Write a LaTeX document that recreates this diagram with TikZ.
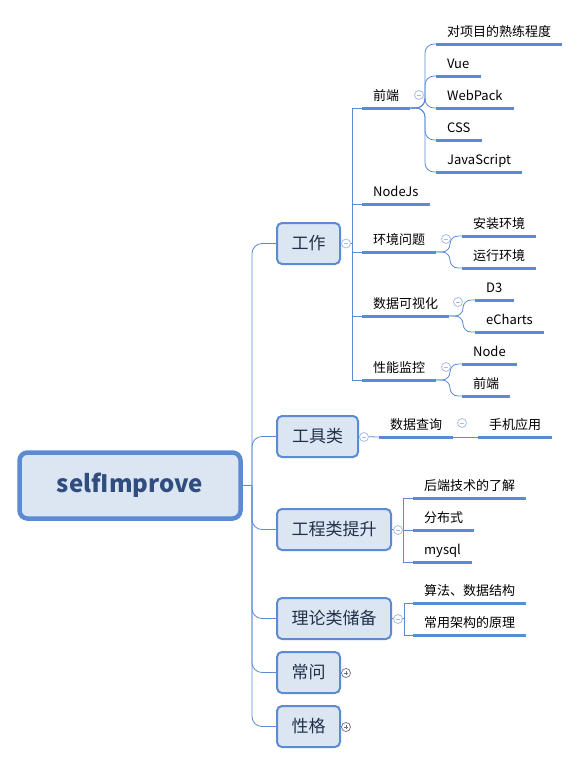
\documentclass[tikz,border=0pt]{standalone}
\usepackage{fontspec}
\setmainfont{Noto Sans CJK SC}
\usetikzlibrary{positioning}

\definecolor{linec}{HTML}{5B8BD3}
\definecolor{boxfill}{HTML}{DCE6F3}
\definecolor{topictext}{HTML}{22304A}
\definecolor{roottext}{HTML}{2F4D7E}
\definecolor{foldc}{HTML}{A9BDE3}
\definecolor{unfoldc}{HTML}{6E7079}

\tikzstyle{rootbox} = [rectangle, rounded corners=8pt, minimum width=221pt, minimum height=66pt, draw=linec, line width=4.5pt, fill=boxfill, text=roottext, font=\fontsize{24}{24}\bfseries\selectfont]
\tikzstyle{topic} = [rectangle, rounded corners=5pt, anchor=west, minimum width=63pt, minimum height=41pt, draw=linec, line width=2pt, fill=boxfill, text=topictext, font=\fontsize{17}{17}\selectfont]
\tikzstyle{leaf} = [anchor=south west, inner xsep=11pt, inner ysep=4pt, text height=10pt, text depth=3pt, font=\fontsize{13}{13}\selectfont]
\tikzstyle{conn} = [linec, line width=0.8pt]
\tikzstyle{uline} = [linec, line width=3pt]
\tikzstyle{fold} = [circle, draw=foldc, fill=white, line width=0.8pt, inner sep=0pt, minimum size=9pt,
  path picture={\draw[foldc, line width=0.8pt] ([xshift=-2.3pt]path picture bounding box.center) -- ([xshift=2.3pt]path picture bounding box.center);}]
\tikzstyle{unfold} = [circle, draw=unfoldc, fill=white, line width=0.7pt, inner sep=0pt, minimum size=9pt,
  path picture={\draw[unfoldc, line width=0.7pt] ([xshift=-2.3pt]path picture bounding box.center) -- ([xshift=2.3pt]path picture bounding box.center)
    ([yshift=-2.3pt]path picture bounding box.center) -- ([yshift=2.3pt]path picture bounding box.center);}]

\begin{document}
\begin{tikzpicture}[x=1pt, y=-1pt]
    \useasboundingbox (0,0) rectangle (580,764);

    % root and first level
    \node (root) [rootbox] at (130,485.5) {selfImprove};
    \node (work) [topic] at (276,243.5) {工作};
    \node (tool) [topic, minimum width=81pt] at (276,436.5) {工具类};
    \node (eng) [topic, minimum width=114pt] at (276,529.5) {工程类提升};
    \node (theory) [topic, minimum width=114pt] at (276,618.5) {理论类储备};
    \node (faq) [topic] at (276,672.5) {常问};
    \node (trait) [topic] at (276,726.5) {性格};

    \coordinate (hub) at (252,485.5);
    \draw [conn] (root.east) -- (hub);
    \foreach \t in {work, tool, eng, theory, faq, trait}
        \draw [conn, rounded corners=10pt] (hub) |- (\t.west);

    % 工作
    \node (fe) [leaf] at (362,108) {前端};
    \node (nj) [leaf] at (362,204) {NodeJs};
    \node (env) [leaf] at (362,252) {环境问题};
    \node (viz) [leaf] at (362,316) {数据可视化};
    \node (perf) [leaf] at (362,380) {性能监控};

    \coordinate (work-hub) at (352,243.5);
    \draw [conn] (work.east) -- (work-hub);
    \foreach \c in {fe, nj, env, viz, perf}
        \draw [conn] (work-hub) |- (\c.south west);

    % 前端
    \node (fe1) [leaf] at (436,44) {对项目的熟练程度};
    \node (fe2) [leaf] at (436,76) {Vue};
    \node (fe3) [leaf] at (436,108) {WebPack};
    \node (fe4) [leaf] at (436,140) {CSS};
    \node (fe5) [leaf] at (436,172) {JavaScript};
    \coordinate (fe-hub) at (425,108);
    \foreach \c in {fe1, fe2, fe3, fe4, fe5}
        \draw [conn, rounded corners=9pt] (fe.south east) -- (fe-hub) |- (\c.south west);

    % 环境问题
    \node (env1) [leaf] at (462,236) {安装环境};
    \node (env2) [leaf] at (462,268) {运行环境};
    \coordinate (env-hub) at (450,252);
    \foreach \c in {env1, env2}
        \draw [conn, rounded corners=8pt] (env.south east) -- (env-hub) |- (\c.south west);

    % 数据可视化
    \node (viz1) [leaf] at (475,300) {D3};
    \node (viz2) [leaf] at (475,332) {eCharts};
    \coordinate (viz-hub) at (463,316);
    \foreach \c in {viz1, viz2}
        \draw [conn, rounded corners=8pt] (viz.south east) -- (viz-hub) |- (\c.south west);

    % 性能监控
    \node (perf1) [leaf] at (462,364) {Node};
    \node (perf2) [leaf] at (462,396) {前端};
    \coordinate (perf-hub) at (450,380);
    \foreach \c in {perf1, perf2}
        \draw [conn, rounded corners=8pt] (perf.south east) -- (perf-hub) |- (\c.south west);

    % 工具类
    \node (query) [leaf] at (379,437) {数据查询};
    \node (mobile) [leaf] at (478,437) {手机应用};
    \draw [conn] (tool.east) -- (query.south west);
    \draw [conn] (query.south east) -- (mobile.south west);

    % 工程类提升
    \node (eng1) [leaf] at (413,498) {后端技术的了解};
    \node (eng2) [leaf] at (413,530) {分布式};
    \node (eng3) [leaf] at (413,562) {mysql};
    \coordinate (eng-hub) at (403,530);
    \draw [conn] (eng.east) -- (eng-hub);
    \foreach \c in {eng1, eng2, eng3}
        \draw [conn] (eng-hub) |- (\c.south west);

    % 理论类储备
    \node (th1) [leaf] at (413,603) {算法、数据结构};
    \node (th2) [leaf] at (413,635) {常用架构的原理};
    \coordinate (th-hub) at (404,618.5);
    \draw [conn] (theory.east) -- (th-hub);
    \foreach \c in {th1, th2}
        \draw [conn] (th-hub) |- (\c.south west);

    % underlines
    \foreach \n in {fe, nj, env, viz, perf, fe1, fe2, fe3, fe4, fe5, env1, env2, viz1, viz2,
                    perf1, perf2, query, mobile, eng1, eng2, eng3, th1, th2}
        \draw [uline] (\n.south west) -- (\n.south east);

    % fold marks
    \node (work-fold) [fold] at (346,243.5) {};
    \node (tool-fold) [fold] at (364,437) {};
    \node (eng-fold) [fold] at (398,530) {};
    \node (th-fold) [fold] at (398,619) {};
    \node (fe-fold) [fold] at (419,95) {};
    \node (env-fold) [fold] at (446,239) {};
    \node (viz-fold) [fold] at (458,302) {};
    \node (perf-fold) [fold] at (446,367) {};
    \node (query-fold) [fold] at (462,423) {};
    \node (faq-fold) [unfold] at (346,673) {};
    \node (trait-fold) [unfold] at (346,727) {};

\end{tikzpicture}
\end{document}
